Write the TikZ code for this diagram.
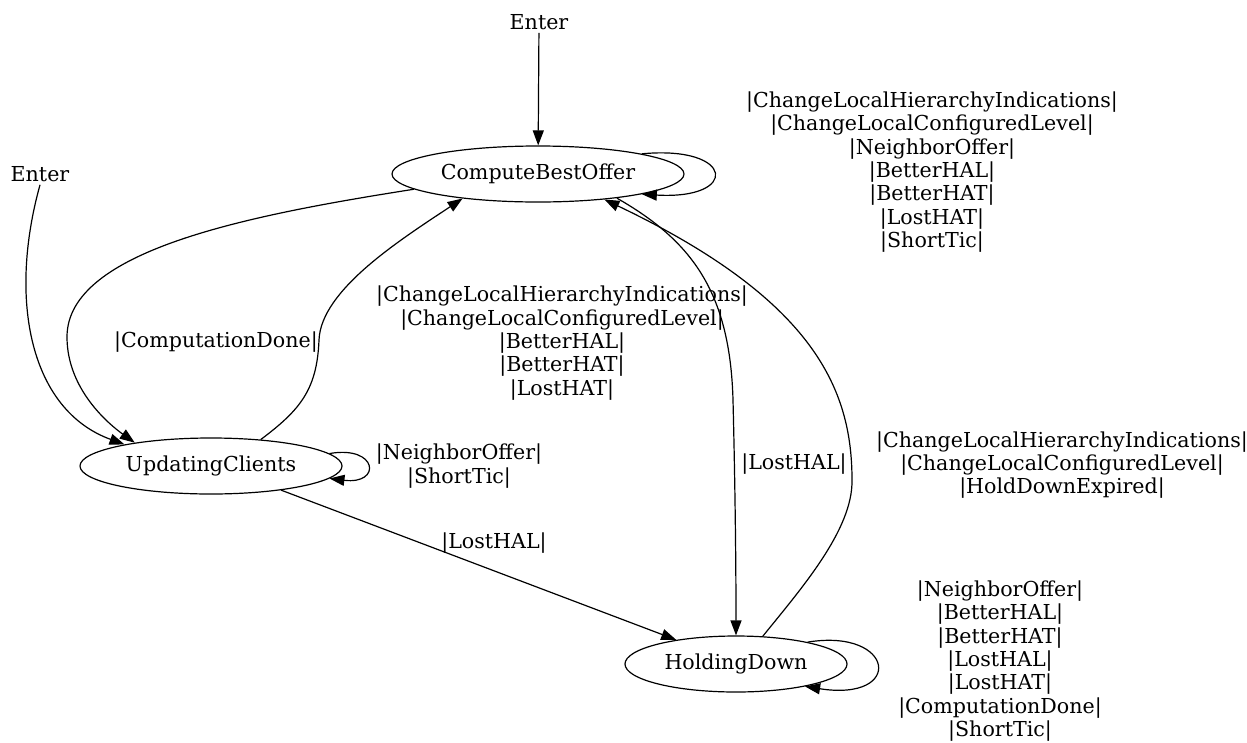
\documentclass[tikz,border=0pt]{standalone}
\usepackage{fontspec}
\setmainfont{DejaVu Serif}
\usetikzlibrary{shapes.geometric,arrows.meta}
\tikzset{
  state/.style={draw, ellipse, line width=1.2pt, inner sep=0pt},
  lbl/.style={align=center, inner sep=0pt, font=\fontsize{20.6}{23.3}\selectfont},
  edge/.style={line width=1.2pt, -{Triangle[length=15pt,width=11pt]}},
}
\begin{document}
\begin{tikzpicture}[x=1pt,y=-1pt]
\useasboundingbox (0,0) rectangle (1247,742);
% states
\node[state, minimum width=292pt, minimum height=56pt, lbl] (cbo) at (538,174) {ComputeBestOffer};
\node[state, minimum width=262pt, minimum height=56pt, lbl] (ucl) at (211,466) {UpdatingClients};
\node[state, minimum width=222pt, minimum height=56pt, lbl] (hdn) at (736,664) {HoldingDown};
\node[lbl, inner sep=3pt] (e1) at (539,22) {Enter};
\node[lbl, inner sep=3pt] (e2) at (40,174) {Enter};
% labels
\node[lbl] (l1) at (932,172) {|ChangeLocalHierarchyIndications|\\|ChangeLocalConfiguredLevel|\\|NeighborOffer|\\|BetterHAL|\\|BetterHAT|\\|LostHAT|\\|ShortTic|};
\node[lbl] (l2) at (562,343) {|ChangeLocalHierarchyIndications|\\|ChangeLocalConfiguredLevel|\\|BetterHAL|\\|BetterHAT|\\|LostHAT|};
\node[lbl] (l3) at (216,342) {|ComputationDone|};
\node[lbl] (l4) at (459,466) {|NeighborOffer|\\|ShortTic|};
\node[lbl] (l5) at (494,543) {|LostHAL|};
\node[lbl] (l6) at (794,464) {|LostHAL|};
\node[lbl] (l7) at (1062,465) {|ChangeLocalHierarchyIndications|\\|ChangeLocalConfiguredLevel|\\|HoldDownExpired|};
\node[lbl] (l8) at (1000,661) {|NeighborOffer|\\|BetterHAL|\\|BetterHAT|\\|LostHAL|\\|LostHAT|\\|ComputationDone|\\|ShortTic|};
% edges
\draw[edge] (e1) -- (cbo);
\draw[edge] (cbo.11) .. controls (735,145) and (740,200) .. (cbo.-11);
\draw[edge] (e2.south) .. controls (8,300) and (30,410) .. (ucl.166);
\draw[edge] (cbo.187) .. controls (250,215) and (67,250) .. (67,337) .. controls (67,390) and (110,425) .. (ucl.163);
\draw[edge] (ucl.28) .. controls (300,410) and (317,390) .. (319,340) .. controls (321,290) and (400,240) .. (cbo.198);
\draw[edge] (ucl.6) .. controls (378,445) and (382,485) .. (ucl.-6);
\draw[edge] (ucl.-19) -- (hdn.158);
\draw[edge] (cbo.-17) .. controls (690,240) and (730,290) .. (733,400) .. controls (735,480) and (736,560) .. (hdn.north);
\draw[edge] (hdn.46) .. controls (800,590) and (853,530) .. (852,480) .. controls (852,390) and (815,300) .. (cbo.-21);
\draw[edge] (hdn.17) .. controls (895,628) and (905,702) .. (hdn.-18);
\end{tikzpicture}
\end{document}
